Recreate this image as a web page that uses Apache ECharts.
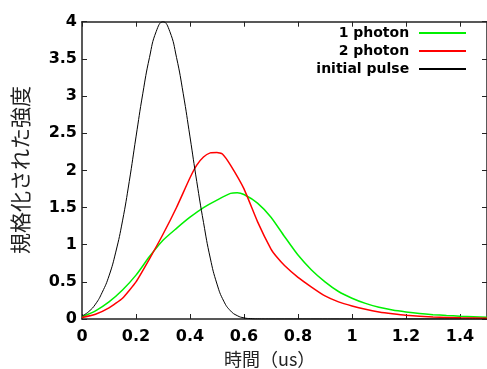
<!DOCTYPE html>
<html><head><meta charset="utf-8">
<script src="https://cdn.jsdelivr.net/npm/echarts@6/dist/echarts.min.js"></script>
<style>html,body{margin:0;padding:0;background:#fff}#c{width:487px;height:369px}</style>
</head><body><div id="c"></div>
<script>
// ---- data ----
const seriesNames = ['1 photon', '2 photon', 'initial pulse'];
const xAxisTitle = '時間（us）';
const yAxisTitle = '規格化された強度';

const timePulse = [0,0.025,0.05,0.075,0.1,0.125,0.15,0.175,0.2,0.225,0.25,0.275,0.3,0.325,0.35,0.375,0.4,0.425,0.45,0.475,0.5,0.525,0.55,0.575,0.6,0.625,0.65,0.7,0.8,1.0,1.5];
const initialPulse = [0.04,0.1,0.2,0.36,0.58,0.9,1.32,1.85,2.45,3.03,3.52,3.87,4.0,3.87,3.52,3.03,2.45,1.85,1.3,0.82,0.47,0.24,0.11,0.045,0.015,0.005,0.001,0,0,0,0];

const time1 = [0,0.05,0.1,0.15,0.2,0.25,0.3,0.35,0.4,0.45,0.5,0.55,0.575,0.6,0.65,0.7,0.75,0.8,0.85,0.9,0.95,1.0,1.05,1.1,1.15,1.2,1.25,1.3,1.35,1.4,1.45,1.5];
const photon1 = [0.03,0.11,0.23,0.39,0.59,0.84,1.06,1.22,1.37,1.50,1.60,1.69,1.70,1.675,1.56,1.37,1.11,0.86,0.66,0.50,0.37,0.28,0.21,0.157,0.12,0.094,0.073,0.058,0.047,0.038,0.03,0.022];

const time2 = [0,0.05,0.1,0.15,0.2,0.25,0.3,0.35,0.4,0.425,0.45,0.475,0.5,0.52,0.55,0.6,0.65,0.7,0.72,0.75,0.8,0.85,0.9,0.95,1.0,1.05,1.1,1.15,1.2,1.3,1.4,1.5];
const photon2 = [0.02,0.065,0.15,0.28,0.50,0.81,1.14,1.50,1.90,2.07,2.18,2.235,2.24,2.22,2.07,1.75,1.31,0.94,0.84,0.72,0.56,0.43,0.31,0.23,0.175,0.13,0.095,0.07,0.05,0.028,0.016,0.01];

const zip = (xs, ys) => xs.map((x, i) => [x, ys[i]]);

const FONT = 'DejaVu Sans';
const chart = echarts.init(document.getElementById('c'), null, {renderer: 'canvas'});
const axisLineStyle = {color: '#222', width: 1.5};
const tick = {show: true, inside: true, length: 5, lineStyle: {color: '#222', width: 1}};
const labelStyle = {color: '#000', fontFamily: FONT, fontWeight: 'bold', fontSize: 16};

chart.setOption({
  backgroundColor: '#fff',
  animation: false,
  grid: {left: 82, top: 21.7, width: 407, height: 297.3, containLabel: false},
  legend: {
    data: seriesNames,
    orient: 'vertical',
    align: 'right',
    right: 20, top: 26,
    padding: 0,
    itemWidth: 47, itemHeight: 14, itemGap: 4,
    itemStyle: {opacity: 0},
    formatter: n => n + ' ',
    textStyle: {color: '#000', fontFamily: FONT, fontWeight: 'bold', fontSize: 14}
  },
  xAxis: [
    {type: 'value', min: 0, max: 1.5, interval: 0.2, position: 'bottom',
     axisLine: {show: true, lineStyle: axisLineStyle, onZero: false},
     axisTick: tick, splitLine: {show: false},
     axisLabel: Object.assign({margin: 10, showMaxLabel: false}, labelStyle)},
    {type: 'value', min: 0, max: 1.5, interval: 0.2, position: 'top',
     axisLine: {show: true, lineStyle: axisLineStyle, onZero: false},
     axisTick: tick, splitLine: {show: false}, axisLabel: {show: false}}
  ],
  yAxis: [
    {type: 'value', min: 0, max: 4, interval: 0.5, position: 'left',
     axisLine: {show: true, lineStyle: axisLineStyle, onZero: false},
     axisTick: tick, splitLine: {show: false},
     axisLabel: Object.assign({margin: 5}, labelStyle)},
    {type: 'value', min: 0, max: 4, interval: 0.5, position: 'right',
     axisLine: {show: true, lineStyle: axisLineStyle, onZero: false},
     axisTick: tick, splitLine: {show: false}, axisLabel: {show: false}}
  ],
  graphic: [
    {type: 'text', left: 224, top: 350,
     style: {text: xAxisTitle, fontFamily: 'Noto Sans CJK JP', fontSize: 18, fill: '#222'}},
    {type: 'text', x: 20, y: 170, rotation: Math.PI / 2,
     style: {text: yAxisTitle, fontFamily: 'Noto Sans CJK JP', fontSize: 21, fill: '#222',
             align: 'center', verticalAlign: 'middle'}}
  ],
  series: [
    {name: seriesNames[0], type: 'line', data: zip(time1, photon1), symbol: 'none',
     smooth: 0.2, lineStyle: {color: '#00f000', width: 1.5}, itemStyle: {color: '#00f000'}},
    {name: seriesNames[1], type: 'line', data: zip(time2, photon2), symbol: 'none',
     smooth: 0.15, lineStyle: {color: '#ff0000', width: 1.5}, itemStyle: {color: '#ff0000'}},
    {name: seriesNames[2], type: 'line', data: zip(timePulse, initialPulse), symbol: 'none',
     smooth: true, lineStyle: {color: '#000', width: 1}, itemStyle: {color: '#000'}}
  ]
});
</script></body></html>
